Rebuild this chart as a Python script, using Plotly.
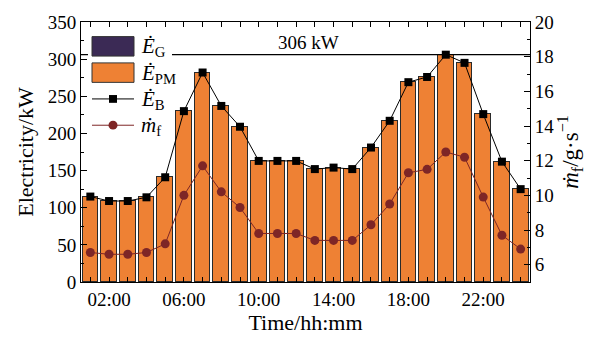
import plotly.graph_objects as go

# Hourly data (hour 1..24)
hours = list(range(1, 25))
tick_hours = [2, 6, 10, 14, 18, 22]
tick_labels = ["02:00", "06:00", "10:00", "14:00", "18:00", "22:00"]

# Electricity (kW)
e_b = [115, 109, 109, 114, 141, 230, 282, 237, 209, 163, 163, 163,
       152, 154, 152, 181, 217, 269, 276, 306, 295, 226, 162, 125]
e_g = [0] * 24
e_pm = [b - g for b, g in zip(e_b, e_g)]

# Fuel mass flow (g/s)
m_f = [6.7, 6.6, 6.6, 6.7, 7.2, 10.0, 11.7, 10.2, 9.3, 7.8, 7.8, 7.8,
       7.4, 7.4, 7.4, 8.3, 9.5, 11.3, 11.5, 12.5, 12.2, 9.9, 7.7, 6.9]

peak_value = 306

ORANGE = "#EE8134"
PURPLE = "#3B2A55"
DARKRED = "#7E2626"
FONT = "Liberation Serif"

W, H = 594, 341
L, R, T, B = 81, 64, 15, 59


def px_x(x):
    return (x - L) / (W - L - R)


def px_y(y):
    return (H - B - y) / (H - T - B)


fig = go.Figure()

fig.add_bar(x=hours, y=e_pm, marker=dict(color=ORANGE, line=dict(color="#2a2a2a", width=1)),
            width=0.84, showlegend=False)
fig.add_bar(x=hours, y=e_g, marker=dict(color=PURPLE, line=dict(width=0)),
            width=0.84, showlegend=False)
fig.add_scatter(x=hours, y=e_b, mode="lines+markers",
                line=dict(color="black", width=1),
                marker=dict(symbol="square", size=8, color="black"),
                showlegend=False)
fig.add_scatter(x=hours, y=m_f, mode="lines+markers", yaxis="y2",
                line=dict(color=DARKRED, width=1),
                marker=dict(symbol="circle", size=9, color=DARKRED),
                showlegend=False)

shapes = []
# Peak line
shapes.append(dict(type="line", xref="paper", x0=0, x1=1, yref="y", y0=peak_value, y1=peak_value,
                   line=dict(color="black", width=1.2), layer="above"))
# Legend box
shapes.append(dict(type="rect", xref="paper", yref="paper",
                   x0=px_x(88), x1=px_x(172), y0=px_y(134), y1=px_y(22),
                   fillcolor="white", line=dict(width=0), layer="above"))
shapes.append(dict(type="rect", xref="paper", yref="paper",
                   x0=px_x(92), x1=px_x(134), y0=px_y(50), y1=px_y(30),
                   fillcolor=PURPLE, line=dict(color="#333", width=1), layer="above"))
shapes.append(dict(type="rect", xref="paper", yref="paper",
                   x0=px_x(92), x1=px_x(134), y0=px_y(77), y1=px_y(57),
                   fillcolor=ORANGE, line=dict(color="#333", width=1), layer="above"))
shapes.append(dict(type="line", xref="paper", yref="paper",
                   x0=px_x(92), x1=px_x(134), y0=px_y(94), y1=px_y(94),
                   line=dict(color="black", width=1), layer="above"))
shapes.append(dict(type="rect", xref="paper", yref="paper",
                   x0=px_x(109), x1=px_x(117), y0=px_y(98), y1=px_y(90),
                   fillcolor="black", line=dict(width=0), layer="above"))
shapes.append(dict(type="line", xref="paper", yref="paper",
                   x0=px_x(92), x1=px_x(134), y0=px_y(121), y1=px_y(121),
                   line=dict(color=DARKRED, width=1), layer="above"))
shapes.append(dict(type="circle", xref="paper", yref="paper",
                   x0=px_x(108.5), x1=px_x(117.5), y0=px_y(125.5), y1=px_y(116.5),
                   fillcolor=DARKRED, line=dict(width=0), layer="above"))

legend_font = dict(family=FONT, size=21, color="black")
annotations = [
    dict(xref="paper", yref="paper", x=px_x(139), y=px_y(41), xanchor="left", yanchor="middle",
         text="<i>Ė</i><sub>G</sub>", showarrow=False, font=legend_font),
    dict(xref="paper", yref="paper", x=px_x(139), y=px_y(68), xanchor="left", yanchor="middle",
         text="<i>Ė</i><sub>PM</sub>", showarrow=False, font=legend_font),
    dict(xref="paper", yref="paper", x=px_x(139), y=px_y(95), xanchor="left", yanchor="middle",
         text="<i>Ė</i><sub>B</sub>", showarrow=False, font=legend_font),
    dict(xref="paper", yref="paper", x=px_x(139), y=px_y(122), xanchor="left", yanchor="middle",
         text="<i>ṁ</i><sub>f</sub>", showarrow=False, font=legend_font),
    dict(xref="paper", yref="y", x=px_x(308), y=peak_value, xanchor="center", yanchor="bottom",
         text=f"{peak_value} kW", showarrow=False, font=dict(family=FONT, size=19, color="black")),
]

axis_common = dict(showline=True, linecolor="black", linewidth=1, ticks="inside",
                   tickcolor="black", showgrid=False, zeroline=False,
                   tickfont=dict(family=FONT, size=19, color="black"))

fig.update_layout(
    width=W, height=H,
    margin=dict(l=L, r=R, t=T, b=B),
    paper_bgcolor="white", plot_bgcolor="white",
    barmode="stack", bargap=0,
    font=dict(family=FONT, color="black"),
    shapes=shapes, annotations=annotations,
    xaxis=dict(**axis_common, range=[0.5, 24.5], tickvals=hours,
               ticktext=[tick_labels[tick_hours.index(h)] if h in tick_hours else "" for h in hours],
               ticklen=5, mirror="ticks",
               title=dict(text="Time/hh:mm", font=dict(family=FONT, size=22), standoff=3)),
    yaxis=dict(**axis_common, range=[0, 350], tickvals=list(range(0, 351, 50)), ticklen=6,
               minor=dict(ticks="inside", ticklen=3, dtick=25, tickcolor="black", showgrid=False),
               title=dict(text="Electricity/kW", font=dict(family=FONT, size=22), standoff=8)),
    yaxis2=dict(**axis_common, overlaying="y", side="right", range=[5, 20],
                tickvals=list(range(6, 21, 2)), ticklen=6,
                minor=dict(ticks="inside", ticklen=3, dtick=1, tickcolor="black", showgrid=False),
                title=dict(text="<i>ṁ</i><sub>f</sub>/g·s<sup>−1</sup>",
                           font=dict(family=FONT, size=23), standoff=4)),
)

fig.write_html("out.html")
